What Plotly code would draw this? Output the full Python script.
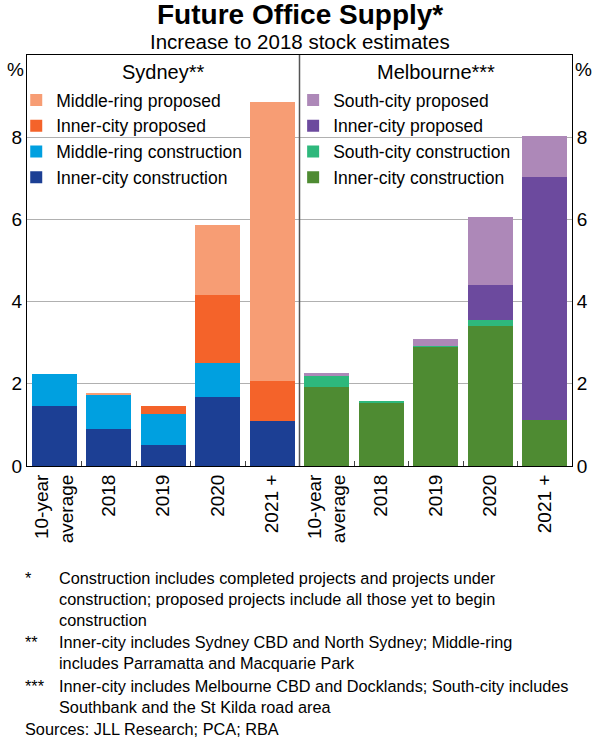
import plotly.graph_objects as go

categories = ["10-year<br>average", "2018", "2019", "2020", "2021 +"]

# Sydney
syd_inner_construction = [1.46, 0.90, 0.50, 1.69, 1.10]
syd_middle_construction = [0.78, 0.85, 0.77, 0.81, 0.0]
syd_inner_proposed = [0.0, 0.0, 0.19, 1.65, 0.98]
syd_middle_proposed = [0.0, 0.02, 0.0, 1.71, 6.77]

# Melbourne
mel_inner_construction = [1.92, 1.54, 2.90, 3.41, 1.12]
mel_south_construction = [0.28, 0.04, 0.02, 0.15, 0.0]
mel_inner_proposed = [0.0, 0.0, 0.0, 0.84, 5.91]
mel_south_proposed = [0.06, 0.0, 0.18, 1.65, 1.00]

y_ticks = [0, 2, 4, 6, 8]

FONT = "Liberation Sans, Arial, sans-serif"
PLOT_TOP, PLOT_H, PLOT_L, PLOT_W = 55, 411, 21, 557


def py(pix):
    return 1 - (pix - PLOT_TOP) / PLOT_H


def px(pix):
    return (pix - PLOT_L) / PLOT_W


fig = go.Figure()

syd_series = [
    ("Inner-city construction", syd_inner_construction, "#1C3F94"),
    ("Middle-ring construction", syd_middle_construction, "#00A0E0"),
    ("Inner-city proposed", syd_inner_proposed, "#F4632A"),
    ("Middle-ring proposed", syd_middle_proposed, "#F79D74"),
]
mel_series = [
    ("Inner-city construction", mel_inner_construction, "#4E8B32"),
    ("South-city construction", mel_south_construction, "#2EB87C"),
    ("Inner-city proposed", mel_inner_proposed, "#6C4A9E"),
    ("South-city proposed", mel_south_proposed, "#AD88B8"),
]

for name, vals, col in syd_series:
    fig.add_trace(go.Bar(x=categories, y=vals, name=name, marker=dict(color=col, line=dict(width=0)),
                         xaxis="x", yaxis="y", legend="legend"))
for name, vals, col in mel_series:
    fig.add_trace(go.Bar(x=categories, y=vals, name=name, marker=dict(color=col, line=dict(width=0)),
                         xaxis="x2", yaxis="y2", legend="legend2"))

axis_common = dict(
    type="category", tickangle=-90, tickfont=dict(size=19, color="black", family=FONT),
    showgrid=False, ticks="inside", tickson="boundaries", ticklen=5, tickcolor="#444",
    showline=True, linecolor="black", linewidth=1, mirror=True,
)
yaxis_common = dict(
    range=[0, 10], tickvals=y_ticks, tickfont=dict(size=19, color="black", family=FONT),
    showgrid=True, gridcolor="#B0B0B0", gridwidth=1, zeroline=False,
    showline=True, linecolor="black", linewidth=1, ticks="",
)

legend_common = dict(
    traceorder="reversed", bgcolor="rgba(0,0,0,0)", font=dict(size=17.5, color="black", family=FONT),
    yanchor="top", xanchor="left", tracegroupgap=0, itemwidth=30,
)

fig.update_layout(
    width=600, height=740,
    margin=dict(l=PLOT_L, r=600 - PLOT_L - PLOT_W, t=PLOT_TOP, b=740 - PLOT_TOP - PLOT_H),
    paper_bgcolor="white", plot_bgcolor="white",
    barmode="stack", bargap=0.17,
    font=dict(family=FONT, color="black"),
    xaxis=dict(domain=[0, 0.5], anchor="y", **axis_common),
    xaxis2=dict(domain=[0.5, 1], anchor="y2", **axis_common),
    yaxis=dict(anchor="x", side="left", **yaxis_common),
    yaxis2=dict(anchor="x2", side="right", **yaxis_common),
    legend=dict(x=px(10), y=py(82), **legend_common),
    legend2=dict(x=px(293), y=py(82), **legend_common),
    showlegend=True,
)

# white masks hiding the gridline behind the legend text (drawn between grid and bars)
fig.add_shape(type="rect", xref="paper", yref="paper", x0=px(22), x1=px(248), y0=py(145), y1=py(131),
              fillcolor="white", line=dict(width=0), layer="between")
fig.add_shape(type="rect", xref="paper", yref="paper", x0=px(302), x1=px(518), y0=py(145), y1=py(131),
              fillcolor="white", line=dict(width=0), layer="between")

fig.add_shape(type="line", xref="paper", yref="paper", x0=0.5, x1=0.5, y0=0, y1=1,
              line=dict(color="#555", width=1.5))

fig.add_annotation(text="<b>Future Office Supply*</b>", xref="paper", yref="paper", x=px(300), y=py(15),
                   xanchor="center", yanchor="middle", showarrow=False,
                   font=dict(size=28, family=FONT, color="black"))
fig.add_annotation(text="Increase to 2018 stock estimates", xref="paper", yref="paper", x=px(300), y=py(42),
                   xanchor="center", yanchor="middle", showarrow=False,
                   font=dict(size=20.5, family=FONT, color="black"))

fig.add_annotation(text="Sydney**", xref="paper", yref="paper", x=0.25, y=py(72),
                   xanchor="center", yanchor="middle", showarrow=False,
                   font=dict(size=20, family=FONT, color="black"))
fig.add_annotation(text="Melbourne***", xref="paper", yref="paper", x=0.75, y=py(72),
                   xanchor="center", yanchor="middle", showarrow=False,
                   font=dict(size=20, family=FONT, color="black"))
fig.add_annotation(text="%", xref="paper", yref="paper", x=0, xanchor="right", xshift=-1,
                   y=py(70), yanchor="middle", showarrow=False,
                   font=dict(size=19, family=FONT, color="black"))
fig.add_annotation(text="%", xref="paper", yref="paper", x=1, xanchor="left", xshift=1,
                   y=py(70), yanchor="middle", showarrow=False,
                   font=dict(size=19, family=FONT, color="black"))

notes = [
    ("*", "Construction includes completed projects and projects under<br>construction; proposed projects include all those yet to begin<br>construction", 567),
    ("**", "Inner-city includes Sydney CBD and North Sydney; Middle-ring<br>includes Parramatta and Macquarie Park", 631),
    ("***", "Inner-city includes Melbourne CBD and Docklands; South-city includes<br>Southbank and the St Kilda road area", 675),
]
NOTE_SIZE = 16.3
for mark, txt, ytop in notes:
    fig.add_annotation(text=mark, xref="paper", yref="paper", x=px(17), y=py(ytop),
                       xanchor="left", yanchor="top", align="left", showarrow=False,
                       font=dict(size=NOTE_SIZE, family=FONT, color="black"))
    fig.add_annotation(text=txt, xref="paper", yref="paper", x=px(52), y=py(ytop),
                       xanchor="left", yanchor="top", align="left", showarrow=False,
                       font=dict(size=NOTE_SIZE, family=FONT, color="black"))
fig.add_annotation(text="Sources: JLL Research; PCA; RBA", xref="paper", yref="paper",
                   x=px(17), y=py(718), xanchor="left", yanchor="top",
                   align="left", showarrow=False, font=dict(size=NOTE_SIZE, family=FONT, color="black"))

fig.write_html("out.html")
